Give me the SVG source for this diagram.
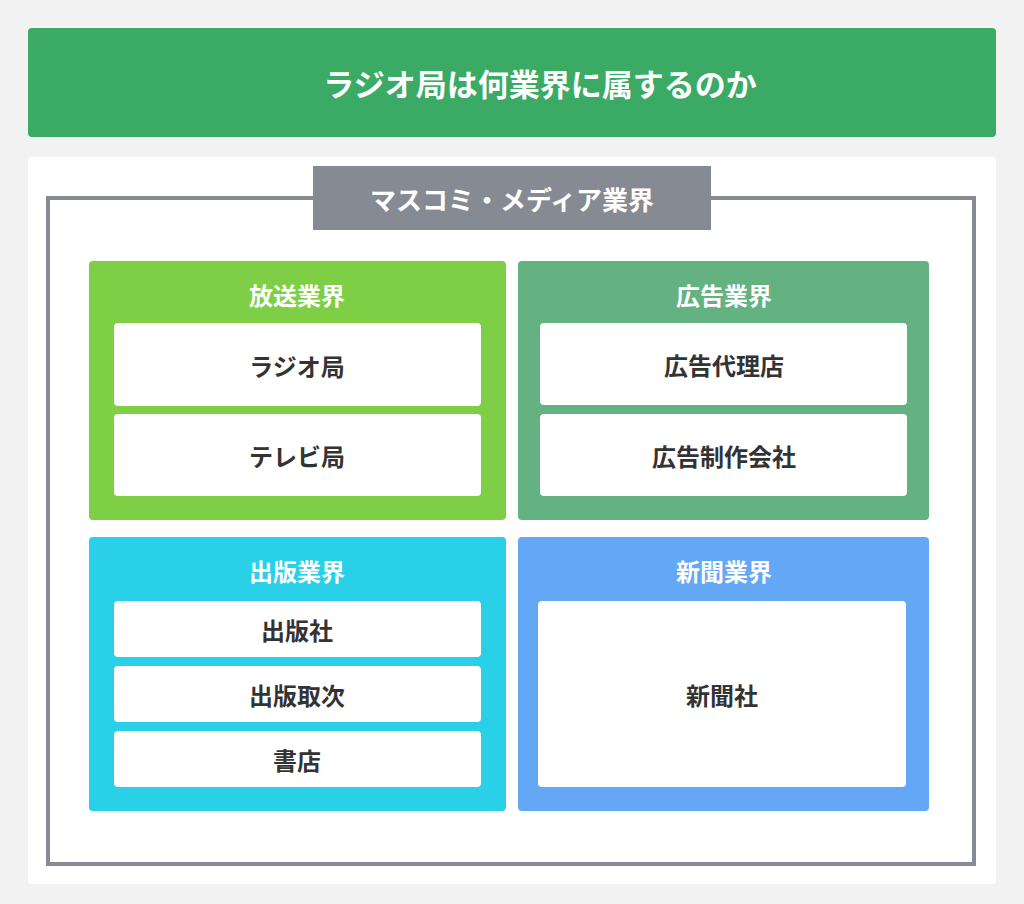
<svg xmlns="http://www.w3.org/2000/svg" width="1024" height="904" viewBox="0 0 1024 904">
<style>
text{font-family:"Noto Sans CJK JP","Noto Sans",sans-serif;font-weight:bold;text-anchor:middle;dominant-baseline:central}
.w{fill:#fff;font-size:24px}
.d{fill:#333;font-size:24px}
.box{fill:#fff}
</style>
<rect width="1024" height="904" fill="#f2f2f2"/>
<g id="title"><rect x="28" y="28" width="968" height="109" rx="4" fill="#3aaa64"/><text class="w" x="540" y="82" style="font-size:31px">ラジオ局は何業界に属するのか</text></g>
<rect x="28" y="157" width="968" height="727" rx="4" fill="#fff"/>
<g id="media"><rect x="48" y="198" width="926" height="666" fill="none" stroke="#868b93" stroke-width="4"/><rect x="313" y="166" width="398" height="64" fill="#868b93"/><text class="w" x="512" y="198" style="font-size:26px">マスコミ・メディア業界</text></g>
<g id="broadcast"><rect x="89" y="261" width="417" height="259" rx="4" fill="#7ecf45"/><text class="w" x="297" y="294">放送業界</text>
<rect class="box" x="114" y="323" width="367" height="83" rx="4"/><text class="d" x="297" y="365">ラジオ局</text>
<rect class="box" x="114" y="414" width="367" height="82" rx="4"/><text class="d" x="297" y="455">テレビ局</text></g>
<g id="ad"><rect x="518" y="261" width="411" height="259" rx="4" fill="#64b282"/><text class="w" x="724" y="294">広告業界</text>
<rect class="box" x="540" y="323" width="367" height="82" rx="4"/><text class="d" x="724" y="364">広告代理店</text>
<rect class="box" x="540" y="414" width="367" height="82" rx="4"/><text class="d" x="724" y="455">広告制作会社</text></g>
<g id="publish"><rect x="89" y="537" width="417" height="274" rx="4" fill="#29d0e8"/><text class="w" x="297" y="570">出版業界</text>
<rect class="box" x="114" y="601" width="367" height="56" rx="4"/><text class="d" x="297" y="629">出版社</text>
<rect class="box" x="114" y="666" width="367" height="56" rx="4"/><text class="d" x="297" y="694">出版取次</text>
<rect class="box" x="114" y="731" width="367" height="56" rx="4"/><text class="d" x="297" y="759">書店</text></g>
<g id="news"><rect x="518" y="537" width="411" height="274" rx="4" fill="#64a8f5"/><text class="w" x="724" y="570">新聞業界</text>
<rect class="box" x="538" y="601" width="368" height="186" rx="4"/><text class="d" x="722" y="694">新聞社</text></g>
<g id="connectors"/>
</svg>
